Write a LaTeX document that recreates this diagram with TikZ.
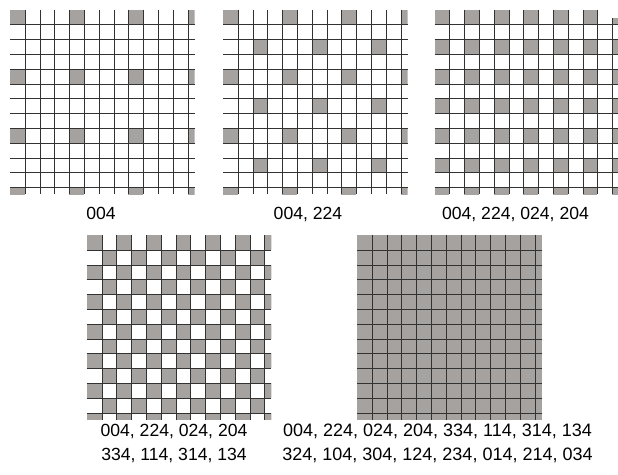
\documentclass[tikz,border=0pt]{standalone}
\usepackage{fontspec}
\setmainfont{Liberation Sans}
\definecolor{cellgray}{RGB}{166,162,160}
\definecolor{gridline}{RGB}{50,50,50}
\tikzset{
  cell/.style={fill=cellgray},
  gline/.style={draw=gridline, line width=1.4pt},
  lbl/.style={anchor=base, inner sep=0pt, font=\fontsize{17.6}{20}\selectfont},
  lblwide/.style={lbl, font=\fontsize{18}{20}\selectfont}
}
\def\s{14.8}
\def\gh{184.6}
\newcommand{\gridlinesat}[2]{%
  \foreach \k in {1,...,12}{%
    \pgfmathsetmacro\xx{round(#1+\k*\s)+0.5}%
    \pgfmathsetmacro\yy{round(#2+\k*\s)+0.5}%
    \draw[gline] (\xx,#2) -- (\xx,{#2+\gh});
    \draw[gline] (#1,\yy) -- ({#1+\gh},\yy);
  }}
\newcommand{\cellsat}[4]{%
  \begin{scope}
    \clip (#1,#2) rectangle ({#1+\gh},{#2+\gh});
    \foreach \c in {#3}{\foreach \r in {#4}{%
      \fill[cell] ({#1+\c*\s},{#2+\r*\s}) rectangle ++(\s,\s);}}
  \end{scope}}
\begin{document}
\begin{tikzpicture}[x=1pt,y=-1pt]
\useasboundingbox (0,0) rectangle (618,474);
\fill[white] (0,0) rectangle (618,474);
% grid 1: 004
\cellsat{10}{9.5}{0,4,8,12}{0,4,8,12}
\gridlinesat{10}{9.5}
% grid 2: 004, 224
\cellsat{223}{9.5}{0,4,8,12}{0,4,8,12}
\cellsat{223}{9.5}{2,6,10}{2,6,10}
\gridlinesat{223}{9.5}
% grid 3: 004, 224, 024, 204
\cellsat{434.5}{9.5}{0,2,...,12}{0,2,...,12}
\gridlinesat{434.5}{9.5}
\fill[white] (611.5,8) rectangle (619,18.3);
% grid 4: checkerboard
\cellsat{86.7}{235}{0,2,...,12}{0,2,...,12}
\cellsat{86.7}{235}{1,3,...,11}{1,3,...,11}
\gridlinesat{86.7}{235}
% grid 5: all sixteen
\fill[cell] (357,235) rectangle ++(\gh,\gh);
\gridlinesat{357}{235}
% labels
\node[lbl] (l1) at (101,219) {004};
\node[lbl] (l2) at (308,219) {004, 224};
\node[lbl] (l3) at (515.5,219) {004, 224, 024, 204};
\node[lbl] (l4a) at (174,436.7) {004, 224, 024, 204};
\node[lbl] (l4b) at (174,460.7) {334, 114, 314, 134};
\node[lblwide] (l5a) at (437.5,436.7) {004, 224, 024, 204, 334, 114, 314, 134};
\node[lblwide] (l5b) at (437.5,460.7) {324, 104, 304, 124, 234, 014, 214, 034};
\end{tikzpicture}
\end{document}
